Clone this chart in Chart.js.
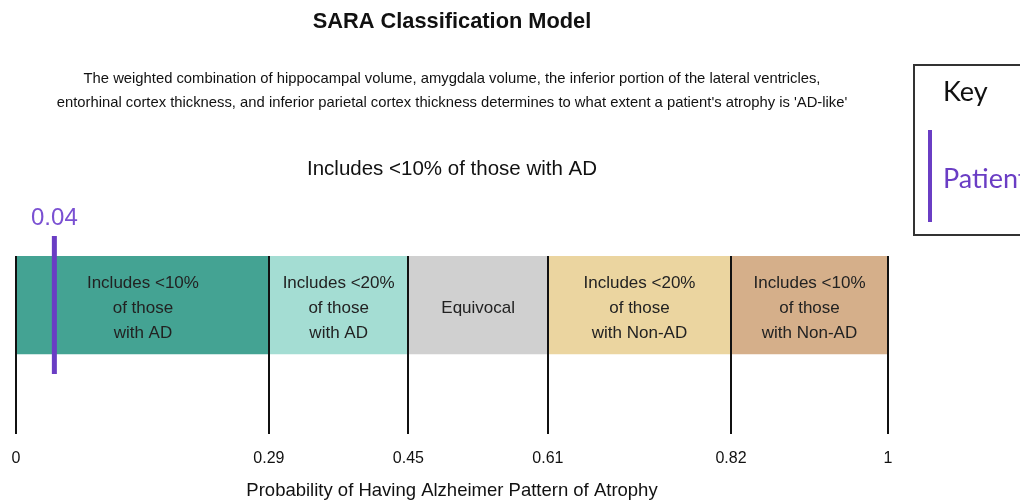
<!DOCTYPE html>
<html>
<head>
<meta charset="utf-8">
<script src="https://cdn.jsdelivr.net/npm/chart.js@4.4.1/dist/chart.umd.min.js"></script>
<style>
  html, body { margin: 0; padding: 0; background: #ffffff; }
  #wrap { width: 1020px; height: 501px; position: relative; }
</style>
</head>
<body>
<div id="wrap"><canvas id="c" width="1020" height="501"></canvas></div>
<script>
// ---- data ----
const chartTitle = 'SARA Classification Model';
const chartSubtitle = [
  'The weighted combination of hippocampal volume, amygdala volume, the inferior portion of the lateral ventricles,',
  "entorhinal cortex thickness, and inferior parietal cortex thickness determines to what extent a patient's atrophy is 'AD-like'"
];
const zoneHeading = 'Includes <10% of those with AD';
const boundaries = [0, 0.29, 0.45, 0.61, 0.82, 1];
const zoneLabels = [
  ['Includes <10%', 'of those', 'with AD'],
  ['Includes <20%', 'of those', 'with AD'],
  ['Equivocal'],
  ['Includes <20%', 'of those', 'with Non-AD'],
  ['Includes <10%', 'of those', 'with Non-AD']
];
const patientValue = 0.044;
const xAxisTitle = 'Probability of Having Alzheimer Pattern of Atrophy';
const keyTitle = 'Key';
const keyItem = 'Patient';

// ---- styles ----
const zoneColors = ['#44a393', '#a4ddd3', '#d0d0d0', '#ebd5a0', '#d5af8a'];
const purple = '#6a3dc4';
const FONT = '"Liberation Sans", Arial, sans-serif';
const BAR_Y = 49;          // bar centre in y-units (1 unit = 1 px, axis 0..178)
const LINE_TOP = -20, LINE_BOTTOM = 118;

const zoneData = zoneLabels.map((_, i) => ({ x: [boundaries[i], boundaries[i + 1]], y: BAR_Y }));

const overlayPlugin = {
  id: 'overlay',
  afterDatasetsDraw(chart) {
    const ctx = chart.ctx;
    const meta = chart.getDatasetMeta(0);
    ctx.save();
    ctx.fillStyle = '#222';
    ctx.font = '17px ' + FONT;
    ctx.textAlign = 'center';
    ctx.textBaseline = 'middle';
    meta.data.forEach((bar, i) => {
      const lines = zoneLabels[i];
      const cx = (bar.x + bar.base) / 2;
      const lh = 25;
      const start = bar.y - (lines.length - 1) * lh / 2 + 3;
      lines.forEach((t, j) => ctx.fillText(t, cx, start + j * lh));
    });
    ctx.restore();
  },
  afterDraw(chart) {
    const ctx = chart.ctx;
    const xs = chart.scales.x, ys = chart.scales.y;
    ctx.save();
    // patient value label
    ctx.fillStyle = '#7a50d2';
    ctx.font = '24px ' + FONT;
    ctx.textAlign = 'center';
    ctx.textBaseline = 'middle';
    ctx.fillText(patientValue.toFixed(2), xs.getPixelForValue(patientValue), ys.getPixelForValue(LINE_TOP) - 18);
    // key box
    ctx.strokeStyle = '#333';
    ctx.lineWidth = 2;
    ctx.strokeRect(914, 65, 200, 170);
    ctx.fillStyle = '#111';
    ctx.font = '27px Lato, "Open Sans", sans-serif';
    ctx.textAlign = 'left';
    ctx.fillText(keyTitle, 943, 92);
    ctx.strokeStyle = purple;
    ctx.lineWidth = 4;
    ctx.beginPath();
    ctx.moveTo(930, 130);
    ctx.lineTo(930, 222);
    ctx.stroke();
    ctx.fillStyle = purple;
    ctx.fillText(keyItem, 943, 179);
    ctx.restore();
  }
};

new Chart(document.getElementById('c'), {
  data: {
    datasets: [
      {
        type: 'bar',
        indexAxis: 'y',
        order: 2,
        data: zoneData,
        backgroundColor: zoneColors,
        borderWidth: 0,
        barThickness: 98,
        xAxisID: 'x',
        yAxisID: 'y'
      },
      {
        type: 'line',
        order: 1,
        data: [{ x: patientValue, y: LINE_TOP }, { x: patientValue, y: LINE_BOTTOM }],
        borderColor: purple,
        borderWidth: 5,
        borderCapStyle: 'butt',
        pointRadius: 0,
        fill: false,
        clip: false,
        xAxisID: 'x',
        yAxisID: 'y'
      }
    ]
  },
  options: {
    responsive: false,
    animation: false,
    devicePixelRatio: 1,
    layout: { autoPadding: false, padding: { left: 16, right: 132, top: 0, bottom: 0 } },
    plugins: {
      legend: { display: false },
      tooltip: { enabled: false },
      title: {
        display: true,
        text: chartTitle,
        color: '#111',
        font: { family: FONT, size: 21.8, weight: 'bold', lineHeight: 1.2 },
        padding: { top: 8.9, bottom: 0 }
      },
      subtitle: {
        display: true,
        text: chartSubtitle,
        color: '#111',
        font: { family: FONT, size: 14.8, lineHeight: 24 / 14.8 },
        padding: { top: 32, bottom: 0 }
      }
    },
    scales: {
      x: {
        type: 'linear',
        position: 'bottom',
        min: 0,
        max: 1,
        offset: false,
        afterBuildTicks: (scale) => { scale.ticks = boundaries.map(v => ({ value: v })); },
        ticks: {
          callback: (v) => String(v),
          color: '#111',
          font: { family: FONT, size: 16, lineHeight: 1.7 },
          padding: 11.4,
          maxRotation: 0,
          autoSkip: false,
          z: 1
        },
        grid: { color: '#111', lineWidth: 2, drawTicks: false, offset: false, z: 1 },
        border: { display: false },
        title: {
          display: true,
          text: xAxisTitle,
          color: '#111',
          font: { family: FONT, size: 18.5, lineHeight: 0.78 },
          padding: { top: 0, bottom: 2.7 }
        }
      },
      x2: {
        type: 'linear',
        position: 'top',
        display: true,
        min: 0,
        max: 1,
        grid: { display: false, drawTicks: false },
        ticks: { display: false },
        border: { display: false },
        title: {
          display: true,
          text: zoneHeading,
          color: '#111',
          font: { family: FONT, size: 20.5, lineHeight: 1.2 },
          padding: { top: 41.7, bottom: 74.64 }
        }
      },
      y: {
        type: 'linear',
        display: false,
        offset: false,
        min: 0,
        max: 178,
        reverse: true,
        grid: { offset: false }
      }
    }
  },
  plugins: [overlayPlugin]
});
</script>
</body>
</html>
